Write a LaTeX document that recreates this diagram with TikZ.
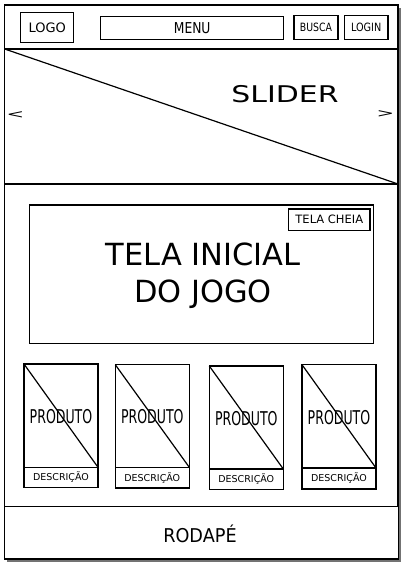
\documentclass[tikz,border=0pt]{standalone}
\usepackage{fontspec}
\setmainfont{DejaVu Sans}
\begin{document}
\begin{tikzpicture}[x=1pt,y=-1pt,line width=1.2pt,
  lbl/.style={inner sep=0pt,font=#1},
  shadowc/.style={fill=black!55}]
\useasboundingbox (0,0) rectangle (404,568);
% outer frame with shadow
\fill[shadowc] (7,8) rectangle (401,562);
\filldraw[fill=white] (4.7,5) rectangle (398,559);
% header
\draw (4.7,49) -- (398,49);
\draw (20.7,12.3) rectangle (73.7,42.7);
\node[lbl=\fontsize{13}{15}\selectfont] (logo) at (47.2,27.5) {LOGO};
\draw (100.7,16.3) rectangle (283.7,39.3);
\node[lbl=\fontsize{15}{17}\selectfont] (menu) at (192.2,27.8) {\scalebox{0.82}[1]{MENU}};
\draw (294,15.3) rectangle (338,39.3);
\node[lbl=\fontsize{11.4}{13}\selectfont] (busca) at (316,27.3) {\scalebox{0.82}[1]{BUSCA}};
\draw (344.3,15.3) rectangle (388,39.3);
\node[lbl=\fontsize{11.4}{13}\selectfont] (login) at (366.2,27.3) {\scalebox{0.85}[1]{LOGIN}};
% slider
\draw (4.7,184) -- (398,184);
\draw (4.7,49) -- (398,184);
\node[lbl=\fontsize{23}{27}\selectfont] (slider) at (285,94) {\scalebox{1.3}[1]{SLIDER}};
\node[lbl=\fontsize{14}{16}\selectfont] (prev) at (15.5,115) {\scalebox{1.5}[0.85]{<}};
\node[lbl=\fontsize{14}{16}\selectfont] (next) at (385.5,114.5) {\scalebox{1.5}[0.85]{>}};
% game screen
\draw (29.3,205) rectangle (373.7,343.3);
\draw (288.7,209) rectangle (370,230.3);
\node[lbl=\fontsize{11.5}{13}\selectfont] (cheia) at (329.3,219.7) {TELA CHEIA};
\node[lbl=\fontsize{30.5}{37}\selectfont,align=center] (tela) at (203,276) {TELA INICIAL\\DO JOGO};
% products
\foreach \i/\xl/\yt/\yd/\yb in {1/24/364/467.3/487.3, 2/115.3/364.7/467.3/488, 3/209.3/366/469/489.7, 4/302/364.7/468/489}{
  \draw (\xl,\yt) rectangle ({\xl+74},\yb);
  \draw (\xl,\yd) -- ({\xl+74},\yd);
  \draw (\xl,\yt) -- ({\xl+74},\yd);
  \node[lbl=\fontsize{19}{21}\selectfont] (prod\i) at ({\xl+37},{(\yt+\yd)/2+1}) {\scalebox{0.66}[1]{PRODUTO}};
  \node[lbl=\fontsize{9.5}{11}\selectfont] (desc\i) at ({\xl+37},{(\yd+\yb)/2}) {DESCRIÇÃO};
}
% footer
\fill[shadowc] (7,509) rectangle (401,562);
\filldraw[fill=white] (4.7,506.7) rectangle (398.5,559);
\node[lbl=\fontsize{19}{22}\selectfont] (rodape) at (200,534) {\scalebox{0.93}[1]{RODAPÉ}};
\end{tikzpicture}
\end{document}
